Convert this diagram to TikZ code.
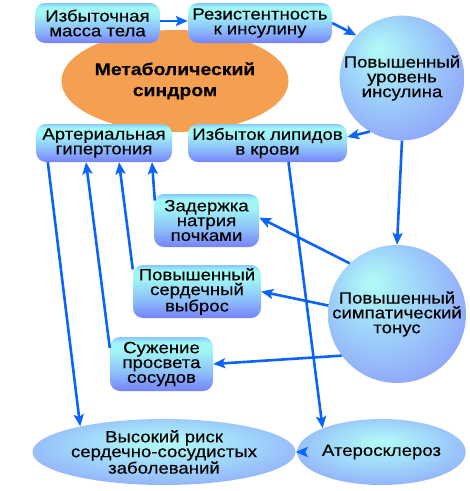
\documentclass[tikz,border=0pt]{standalone}
\usepackage{fontspec}
\setmainfont{Liberation Sans}[FakeStretch=1.14,FakeBold=0.35]
\usetikzlibrary{arrows.meta,calc,shapes.geometric}
\definecolor{arrowblue}{RGB}{10,100,250}
\definecolor{orangefill}{RGB}{245,160,80}
\definecolor{boxtop}{RGB}{135,200,250}
\definecolor{boxmid}{RGB}{160,245,245}
\definecolor{boxlow}{RGB}{140,190,250}
\definecolor{boxbot}{RGB}{118,130,250}
\definecolor{ballA}{RGB}{178,252,245}
\definecolor{ballB}{RGB}{160,215,250}
\definecolor{ballC}{RGB}{140,160,250}
\definecolor{ballD}{RGB}{120,130,248}
\pgfdeclareverticalshading{boxsh}{100bp}{color(0bp)=(boxbot); color(25bp)=(boxbot); color(42bp)=(boxlow); color(62bp)=(boxmid); color(70bp)=(boxmid); color(75bp)=(boxtop); color(100bp)=(boxtop)}
\pgfdeclareradialshading{ballsh}{\pgfpoint{-10bp}{12bp}}{color(0bp)=(ballA); color(14bp)=(ballB); color(34bp)=(ballC); color(50bp)=(ballD)}
\pgfdeclareradialshading{ellsh}{\pgfpoint{0bp}{8bp}}{color(0bp)=(ballA); color(16bp)=(ballB); color(36bp)=(ballC); color(50bp)=(ballD)}
\begin{document}
\begin{tikzpicture}[x=1pt,y=-1pt,
  txt/.style={font=\fontsize{16.3}{14.8}\selectfont, align=center, text=black},
  gbox/.style={txt, rounded corners=10pt, inner sep=0pt, shading=boxsh},
  gball/.style={txt, circle, inner sep=0pt, shading=ballsh},
  gell/.style={txt, ellipse, inner sep=0pt, shading=ellsh},
  arr/.style={draw=arrowblue, line width=2.6pt, -{Stealth[length=12pt,width=10pt,inset=2.5pt]}}
]
\useasboundingbox (0,0) rectangle (470,491);
\node[ellipse, fill=orangefill, minimum width=170pt, minimum height=102pt, inner sep=0pt,
      font=\fontsize{17}{21}\selectfont\bfseries, align=center] (ms) at (175,81) {Метаболический\\синдром};

\node[gbox, minimum width=125pt, minimum height=40pt] (mass) at (97.5,23) {Избыточная\\масса тела};
\node[gbox, minimum width=144pt, minimum height=40pt] (res) at (260,23) {Резистентность\\к инсулину};
\node[gball, minimum size=124pt] (ins) at (402,78) {Повышенный\\уровень\\инсулина};
\node[gbox, minimum width=136pt, minimum height=38pt] (gip) at (104,143) {Артериальная\\гипертония};
\node[gbox, minimum width=159pt, minimum height=38pt] (lip) at (267.5,143) {Избыток липидов\\в крови};
\node[gbox, minimum width=105pt, minimum height=53pt] (zad) at (206.5,220.5) {Задержка\\натрия\\почками};
\node[gbox, minimum width=128pt, minimum height=53pt] (vyb) at (197,291.5) {Повышенный\\сердечный\\выброс};
\node[gball, minimum size=138pt] (sym) at (397,314) {Повышенный\\симпатический\\тонус};
\node[gbox, minimum width=103pt, minimum height=54pt] (suz) at (161.5,364) {Сужение\\просвета\\сосудов};
\node[gell, minimum width=228pt, minimum height=66pt] (risk) at (164,452) {Высокий риск\\сердечно-сосудистых\\заболеваний};
\node[gell, minimum width=153pt, minimum height=66pt] (ath) at (381.5,452) {Атеросклероз};

\draw[arr] ($(mass.east)+(0,-2)$) -- ($(res.west)+(0,-2)$);
\draw[arr] (res.east) -- (ins.137);
\draw[arr] (ins.239) -- ($(lip.east)+(0,-6)$);
\draw[arr] (ins.south) -- (sym.north);
\draw[arr] ($(lip.south)+(21,0)$) -- (ath.158);
\draw[arr] (ath.west) -- (risk.east);
\draw[arr] ($(gip.south west)+(12,0)$) -- (risk.163);
\draw[arr] ($(zad.west)+(1,-20)$) -- ($(gip.south)+(48,0)$);
\draw[arr] ($(vyb.west)+(0,-22)$) -- ($(gip.south)+(15,0)$);
\draw[arr] ($(suz.west)+(0,-16)$) -- ($(gip.south)+(-18,0)$);
\draw[arr] (sym.133) -- ($(zad.east)+(0,-3)$);
\draw[arr] (sym.173) -- (vyb.east);
\draw[arr] (sym.217) -- (suz.east);
\end{tikzpicture}
\end{document}
